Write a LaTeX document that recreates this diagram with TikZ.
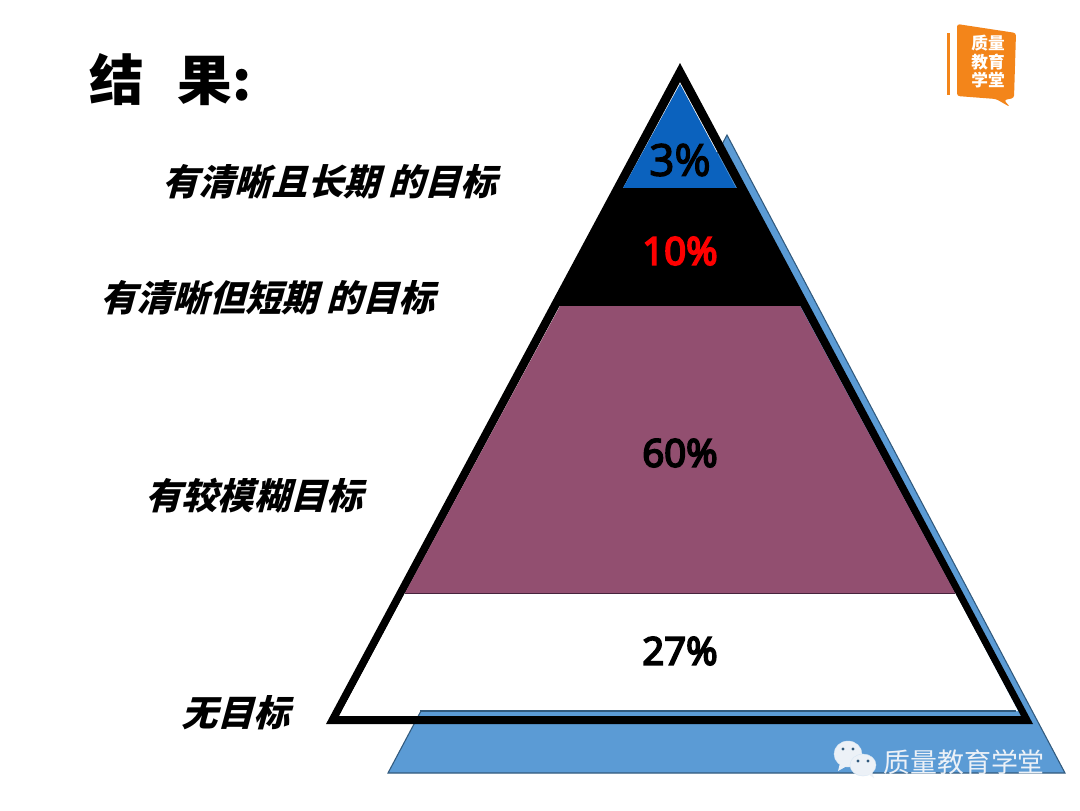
\documentclass[tikz,border=0pt]{standalone}
\usepackage{fontspec}
\setmainfont{Open Sans}
\newfontfamily\pctfont[FakeBold=5]{Open Sans}
\newfontfamily\pcttop[FakeBold=3]{Open Sans}
\newfontfamily\cjkfont{Noto Sans CJK SC}
\newfontfamily\cjkslant[FakeSlant=0.27]{Noto Sans CJK SC}
\definecolor{my_back}{RGB}{91, 155, 213}
\definecolor{my_backline}{RGB}{50, 90, 125}
\definecolor{my_blue}{RGB}{11, 98, 190}
\definecolor{my_plum}{RGB}{146, 79, 112}
\definecolor{my_darkplum}{RGB}{70, 35, 60}
\definecolor{my_orange}{RGB}{243, 133, 26}
\definecolor{my_mark}{RGB}{236, 241, 247}
\tikzset {
  title/.style = {inner sep=0, anchor=west, font=\cjkfont\bfseries\fontsize{41}{48}\selectfont},
  goal/.style = {inner sep=0, anchor=west, font=\cjkslant\bfseries\fontsize{27.2}{32}\selectfont},
  percent/.style = {inner sep=0, font=\pctfont\fontsize{28.7}{34}\selectfont},
  logotext/.style = {inner sep=0, text=white, font=\cjkfont\bfseries\fontsize{12.5}{14}\selectfont},
  marktext/.style = {inner sep=0, anchor=west, text=my_mark, font=\cjkfont\fontsize{20.2}{24}\selectfont},
  bubble/.style = {fill=my_mark, draw=white!75!my_back, line width=0.3pt},
  eye/.style = {fill=my_backline, circle, inner sep=0, minimum size=2.4pt}
}
\begin{document}
\begin{tikzpicture}[x=0.75pt, y=-0.75pt]
    \path[fill=white, use as bounding box] (0,0) rectangle (1080,810);

    \draw[fill=my_back, draw=my_backline, line width=0.8pt, line join=miter] (727,135) -- (388,773) -- (1065,773) -- cycle;
    \fill[black, even odd rule] (680,63) -- (326,724) -- (1033,724) -- cycle (680,82) -- (339,716) -- (1021,716) -- cycle;

    \fill[my_blue] (680,84) -- (623,188) -- (736,188) -- cycle;
    \fill[black] (620,188) -- (739,188) -- (804,306) -- (556,306) -- cycle;
    \fill[my_plum] (560,306) -- (800,306) -- (955,593) -- (405,593) -- cycle;
    \fill[white] (405,593) -- (955,593) -- (1018,711) -- (342,711) -- cycle;
    \draw[my_darkplum, line width=0.6pt] (405,593) -- (955,593);
    \draw[my_backline, line width=0.8pt] (420,711) -- (1016,711);

    \node[percent, font=\pcttop\fontsize{33}{38}\selectfont, text=black] (top) at (680,160) {3\%};
    \node[percent, text=red] (second) at (680,251) {10\%};
    \node[percent] (third) at (680,453) {60\%};
    \node[percent] (fourth) at (680,651) {27\%};

    \node[title] (result) at (89,80) {结\hspace{0.62em}果:};
    \node[goal] (clearlong) at (162,182) {有清晰且长期 的目标};
    \node[goal] (clearshort) at (100,298) {有清晰但短期 的目标};
    \node[goal] (vague) at (145,496) {有较模糊目标};
    \node[goal] (none) at (181,713) {无目标};

    \fill[my_orange] (947,33) rectangle (950,95);
    \fill[my_orange, rounded corners=2pt] (957,24) -- (1016,33) -- (1014,98) -- (1004,100) -- (1010,107) -- (996,99) -- (957,96) -- cycle;
    \node[logotext] (logoa) at (988,43) {质量};
    \node[logotext] (logob) at (988,62) {教育};
    \node[logotext] (logoc) at (988,80) {学堂};

    \draw[bubble] (848,754) ellipse [x radius=14, y radius=13];
    \fill[my_mark] (840,763) -- (838,771) -- (847,766) -- cycle;
    \draw[bubble] (863,765) ellipse [x radius=13, y radius=11];
    \fill[my_mark] (868,774) -- (874,778) -- (872,772) -- cycle;
    \node[eye] (eyea) at (843,749) {};
    \node[eye] (eyeb) at (853,749) {};
    \node[eye] (eyec) at (858,761) {};
    \node[eye] (eyed) at (868,761) {};
    \node[marktext] (brand) at (883,762) {质量教育学堂};
\end{tikzpicture}
\end{document}
